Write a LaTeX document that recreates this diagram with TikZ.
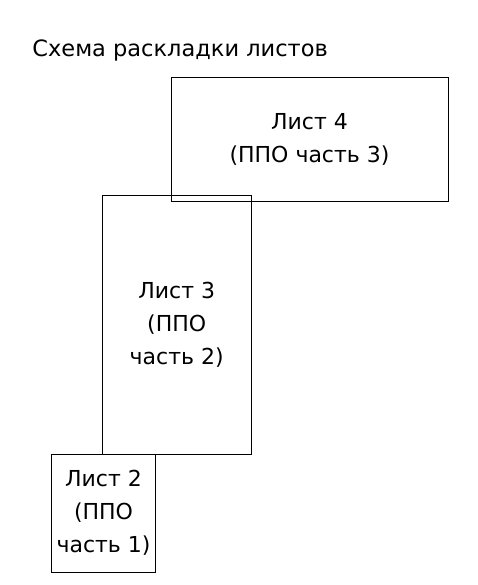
\documentclass[tikz,border=0pt]{standalone}
\usepackage{fontspec}
\setmainfont{DejaVu Sans}
\usepackage{tikz}

\begin{document}
\begin{tikzpicture}[x=1pt,y=-1pt, line width=.8pt,
  sheet/.style={draw,align=center,inner sep=0pt,font=\fontsize{22}{33}\selectfont}]

\useasboundingbox (0,0) rectangle (478,585);

\node[anchor=base west,inner sep=0pt,font=\fontsize{22.5}{24}\selectfont] (title) at (32,57) {Схема раскладки листов};

\node[sheet,minimum width=277pt,minimum height=124pt] (sheet4) at (309.5,139.7) {Лист 4\\(ППО часть 3)};
\node[sheet,minimum width=149pt,minimum height=259pt] (sheet3) at (176.7,324.7) {Лист 3\\(ППО\\часть 2)};
\node[sheet,minimum width=103.6pt,minimum height=118.3pt] (sheet2) at (103.5,513.2) {Лист 2\\(ППО\\часть 1)};

\end{tikzpicture}
\end{document}
